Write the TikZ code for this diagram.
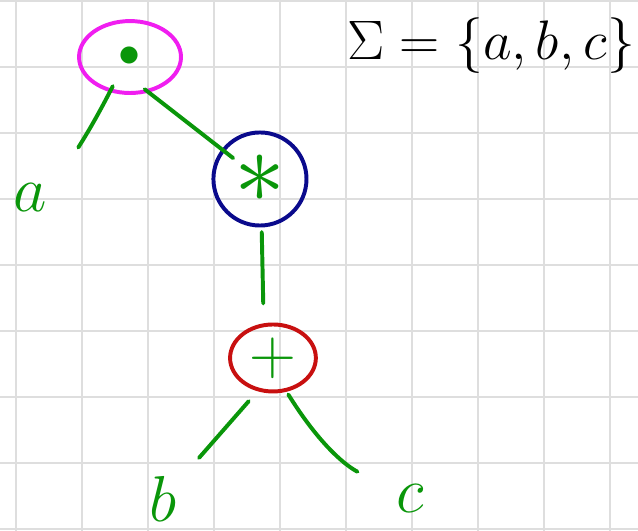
\documentclass[tikz,border=0pt]{standalone}
\usepackage{fix-cm}
\usetikzlibrary{shapes.geometric}

\definecolor{penGreen}{RGB}{10,150,10}
\definecolor{penMagenta}{RGB}{240,30,240}
\definecolor{penBlue}{RGB}{10,10,140}
\definecolor{penRed}{RGB}{200,16,16}
\definecolor{paperGrid}{RGB}{222,222,222}

\begin{document}
\begin{tikzpicture}[
	line cap=round, line join=round,
	gridline/.style={draw=paperGrid, line width=0.85pt},
	branch/.style={draw=penGreen, line width=1.7pt},
	opnode/.style={line width=1.7pt, inner sep=0pt, text=penGreen},
	leaf/.style={text=penGreen, inner sep=2pt, font=\fontsize{28}{30}\selectfont}
]

	% paper
	\useasboundingbox (0,0) rectangle (9.667,-8.045);
	\fill[white] (0,0) rectangle (9.667,-8.045);

	% squared paper
	\foreach \gx in {0,...,9}
		\draw[gridline] (0.242+\gx,0) -- (0.242+\gx,-8.045);
	\foreach \gy in {0,...,8}
		\draw[gridline] (0,-0.015-\gy) -- (9.667,-0.015-\gy);

	% alphabet
	\node[anchor=base, font=\fontsize{24}{28}\selectfont] (sigma) at (7.44,-0.909) {$\Sigma = \{a, b, c\}$};

	% operators
	\node[opnode, draw=penMagenta, ellipse, minimum width=1.545cm, minimum height=1.09cm, font=\fontsize{19}{21}\selectfont] (root) at (1.970,-0.864) {$\bullet$};
	\node[opnode, draw=penBlue, circle, minimum size=1.41cm, font=\fontsize{44}{46}\selectfont] (star) at (3.939,-2.712) {$\ast$};
	\node[opnode, draw=penRed, ellipse, minimum width=1.30cm, minimum height=1.015cm, font=\fontsize{28}{30}\selectfont] (plus) at (4.136,-5.424) {$\mathbf{+}$};

	% leaves
	\node[leaf] (a) at (0.455,-3.0) {$a$};
	\node[leaf] (b) at (2.470,-7.56) {$b$};
	\node[leaf] (c) at (6.212,-7.56) {$c$};

	% branches
	\draw[branch, shorten <=-0.1cm, shorten >=0.65cm] (root.-120) to[bend left=8] (a);
	\draw[branch, shorten <=-0.08cm, shorten >=-0.22cm] (root.-62) -- (star);
	\draw[branch, shorten <=0.07cm, shorten >=0.3cm] (star.-88) -- (plus.105);
	\draw[branch, shorten <=0.2cm, shorten >=0.4cm] (plus.-115) -- (b);
	\draw[branch, shorten <=0.05cm, shorten >=0.58cm] (plus.-68) to[bend right=15] (c);

\end{tikzpicture}
\end{document}
